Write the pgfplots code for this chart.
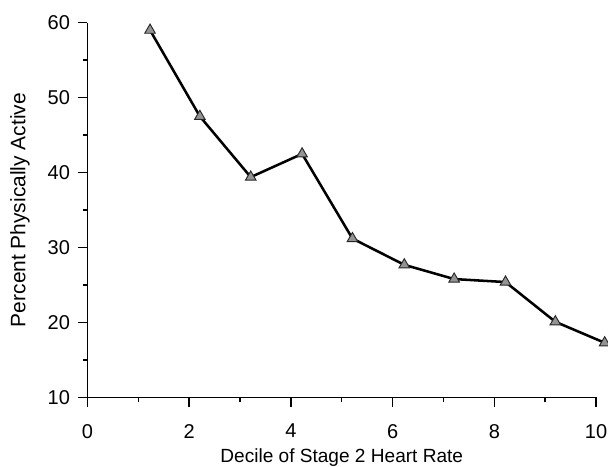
\documentclass[border=0pt]{standalone}
\usepackage{pgfplots}
\pgfplotsset{compat=1.18}
\usepackage{fontspec}
\setmainfont{Liberation Sans}
\begin{document}
\begin{tikzpicture}
\begin{axis}[
  name=ax,
  at={(0,0)}, anchor=origin,
  scale only axis,
  width=381.4pt, height=281.1pt,
  xmin=0, xmax=10, ymin=10, ymax=60,
  axis x line*=bottom, axis y line*=left,
  axis line style={line width=1.3pt, -},
  xtick={0,2,4,6,8,10}, minor xtick={1,3,5,7,9},
  ytick={10,20,30,40,50,60}, minor ytick={15,25,35,45,55},
  tick align=outside,
  major tick length=7pt, minor tick length=3.5pt,
  every tick/.style={line width=1.1pt, black},
  tick label style={font=\fontsize{15}{18}\selectfont},
  /pgf/number format/assume math mode=true,
  xticklabel style={yshift=-9.5pt},
  yticklabel style={xshift=-2.6pt},
  xlabel={Decile of Stage 2 Heart Rate},
  ylabel={Percent Physically Active},
  xlabel style={font=\fontsize{14.3}{17}\selectfont, at={(axis description cs:0.5,0)}, anchor=center, yshift=-44.8pt},
  ylabel style={font=\fontsize{15.7}{18}\selectfont, at={(axis description cs:0,0.5)}, anchor=center, rotate=0, yshift=50.6pt},
  clip=false,
]
\addplot[line width=1.9pt, black, mark=triangle*, mark size=4.6pt,
  mark options={fill=gray!85, draw=black!85, line width=0.7pt}]
  coordinates {
  (1.23,59.0) (2.21,47.5) (3.21,39.4) (4.22,42.5) (5.21,31.2)
  (6.23,27.7) (7.21,25.8) (8.22,25.4) (9.20,20.1) (10.17,17.3)
  };
\end{axis}
\pgfresetboundingbox
\useasboundingbox (-65.625pt,-52.125pt) rectangle (390.375pt,298.125pt);
\end{tikzpicture}
\end{document}
